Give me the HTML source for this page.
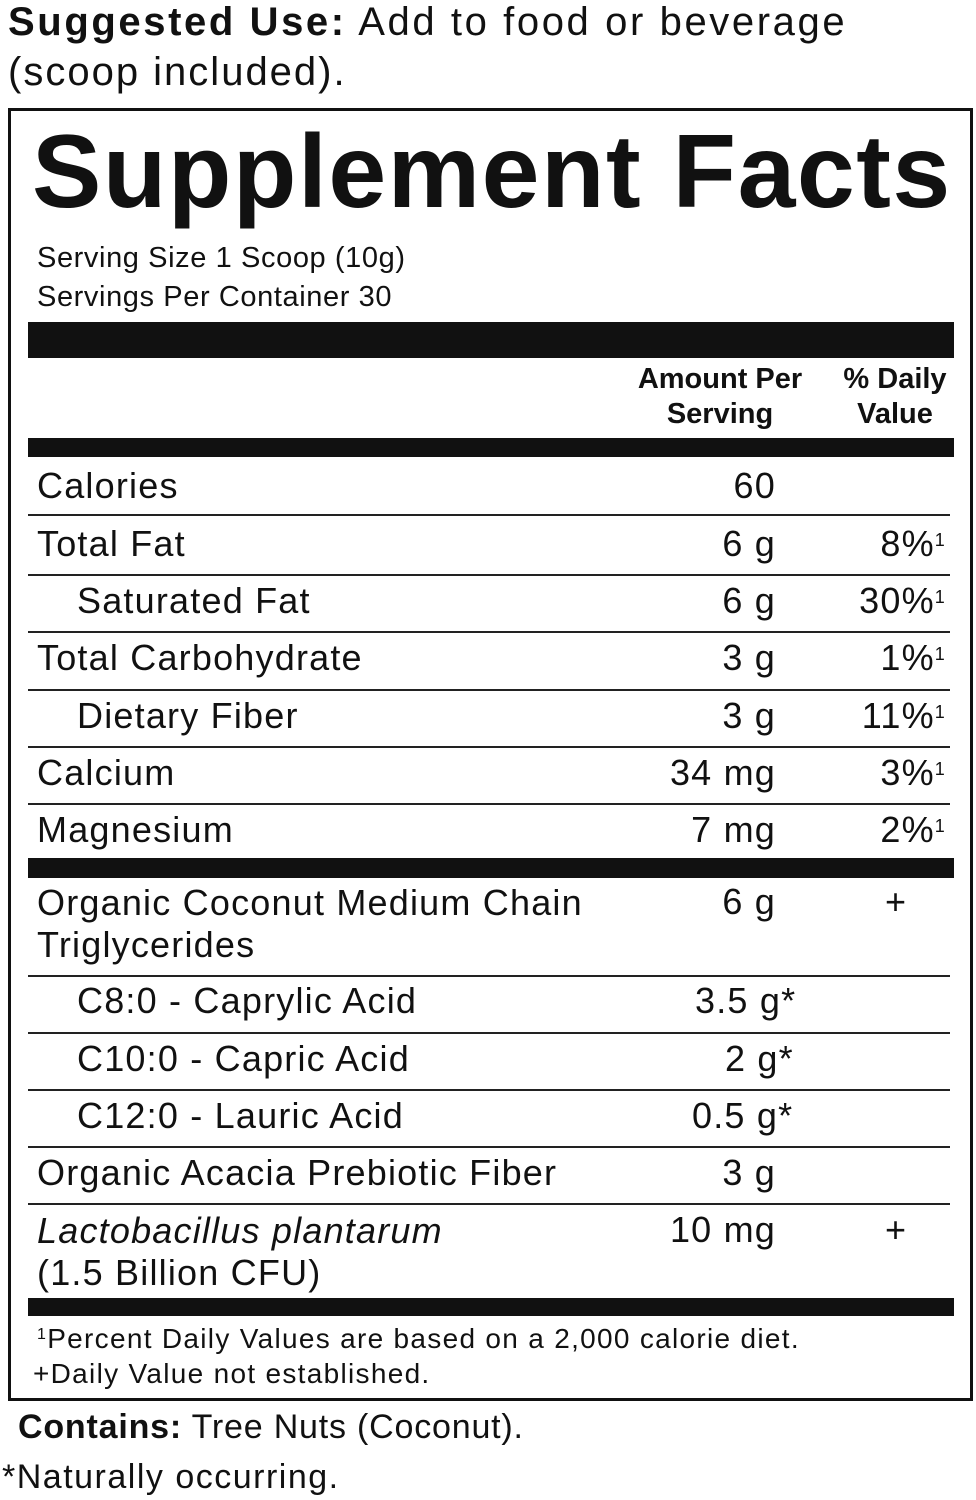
<!DOCTYPE html>
<html><head><meta charset="utf-8"><style>
*{margin:0;padding:0;box-sizing:border-box}
body{width:976px;height:1500px;background:#fff;position:relative;font-family:"Liberation Sans","DejaVu Sans",sans-serif;color:#111;overflow:hidden}
.a{position:absolute;white-space:nowrap}
.t{font-size:36px;line-height:40px;letter-spacing:1.2px}
.r{text-align:right}
.line{position:absolute;left:28px;width:922px;height:2px;background:#222}
.bar{position:absolute;left:28px;width:926px;background:#111}
sup{font-size:18px;vertical-align:top;position:relative;top:-4px}
</style></head><body>
<div class="a" style="left:8px;top:-2px;font-size:40px;line-height:48px;letter-spacing:2.6px"><b>Suggested Use:</b> Add to food or beverage</div>
<div class="a" style="left:8px;top:48px;font-size:40px;line-height:48px;letter-spacing:2px">(scoop included).</div>
<div class="a" style="left:8px;top:108px;width:965px;height:1293px;border:3px solid #111"></div>
<div class="a" style="left:32px;top:112px;font-size:104px;line-height:120px;font-weight:bold;letter-spacing:1.5px">Supplement Facts</div>
<div class="a" style="left:37px;top:240px;font-size:29px;line-height:36px;letter-spacing:0.6px">Serving Size 1 Scoop (10g)</div>
<div class="a" style="left:37px;top:279px;font-size:29px;line-height:36px;letter-spacing:0.6px">Servings Per Container 30</div>
<div class="bar" style="top:322px;height:36px"></div>
<div class="a" style="left:630px;top:362px;width:180px;text-align:center;font-size:29px;line-height:35px;font-weight:bold">Amount Per<br>Serving</div>
<div class="a" style="left:835px;top:362px;width:120px;text-align:center;font-size:29px;line-height:35px;font-weight:bold">% Daily<br>Value</div>
<div class="bar" style="top:438px;height:19px"></div>

<div class="a t" style="left:37px;top:466px">Calories</div><div class="a t r" style="right:200px;top:466px">60</div>
<div class="line" style="top:514px"></div>
<div class="a t" style="left:37px;top:524px">Total Fat</div><div class="a t r" style="right:200px;top:524px">6 g</div><div class="a t r" style="right:30px;top:524px">8%<sup>1</sup></div>
<div class="line" style="top:574px"></div>
<div class="a t" style="left:77px;top:581px">Saturated Fat</div><div class="a t r" style="right:200px;top:581px">6 g</div><div class="a t r" style="right:30px;top:581px">30%<sup>1</sup></div>
<div class="line" style="top:631px"></div>
<div class="a t" style="left:37px;top:638px">Total Carbohydrate</div><div class="a t r" style="right:200px;top:638px">3 g</div><div class="a t r" style="right:30px;top:638px">1%<sup>1</sup></div>
<div class="line" style="top:689px"></div>
<div class="a t" style="left:77px;top:696px">Dietary Fiber</div><div class="a t r" style="right:200px;top:696px">3 g</div><div class="a t r" style="right:30px;top:696px">11%<sup>1</sup></div>
<div class="line" style="top:746px"></div>
<div class="a t" style="left:37px;top:753px">Calcium</div><div class="a t r" style="right:200px;top:753px">34 mg</div><div class="a t r" style="right:30px;top:753px">3%<sup>1</sup></div>
<div class="line" style="top:803px"></div>
<div class="a t" style="left:37px;top:810px">Magnesium</div><div class="a t r" style="right:200px;top:810px">7 mg</div><div class="a t r" style="right:30px;top:810px">2%<sup>1</sup></div>
<div class="bar" style="top:858px;height:20px"></div>

<div class="a t" style="left:37px;top:882px;line-height:42px">Organic Coconut Medium Chain<br>Triglycerides</div><div class="a t r" style="right:200px;top:882px">6 g</div><div class="a t" style="left:885px;top:882px">+</div>
<div class="line" style="top:975px"></div>
<div class="a t" style="left:77px;top:981px">C8:0 - Caprylic Acid</div><div class="a t" style="left:695px;top:981px">3.5 g*</div>
<div class="line" style="top:1032px"></div>
<div class="a t" style="left:77px;top:1039px">C10:0 - Capric Acid</div><div class="a t" style="left:725px;top:1039px">2 g*</div>
<div class="line" style="top:1089px"></div>
<div class="a t" style="left:77px;top:1096px">C12:0 - Lauric Acid</div><div class="a t" style="left:692px;top:1096px">0.5 g*</div>
<div class="line" style="top:1146px"></div>
<div class="a t" style="left:37px;top:1153px">Organic Acacia Prebiotic Fiber</div><div class="a t r" style="right:200px;top:1153px">3 g</div>
<div class="line" style="top:1203px"></div>
<div class="a t" style="left:37px;top:1210px;line-height:42px"><i>Lactobacillus plantarum</i><br>(1.5 Billion CFU)</div><div class="a t r" style="right:200px;top:1210px">10 mg</div><div class="a t" style="left:885px;top:1210px">+</div>
<div class="bar" style="top:1298px;height:18px"></div>
<div class="a" style="left:37px;top:1322px;font-size:28px;line-height:34px;letter-spacing:1.3px"><sup style="font-size:16px">1</sup>Percent Daily Values are based on a 2,000 calorie diet.</div>
<div class="a" style="left:33px;top:1357px;font-size:28px;line-height:34px;letter-spacing:1.3px">+Daily Value not established.</div>
<div class="a" style="left:18px;top:1406px;font-size:34px;line-height:42px;letter-spacing:0.8px"><b>Contains:</b> Tree Nuts (Coconut).</div>
<div class="a" style="left:2px;top:1456px;font-size:34px;line-height:42px;letter-spacing:1.5px">*Naturally occurring.</div>
</body></html>
